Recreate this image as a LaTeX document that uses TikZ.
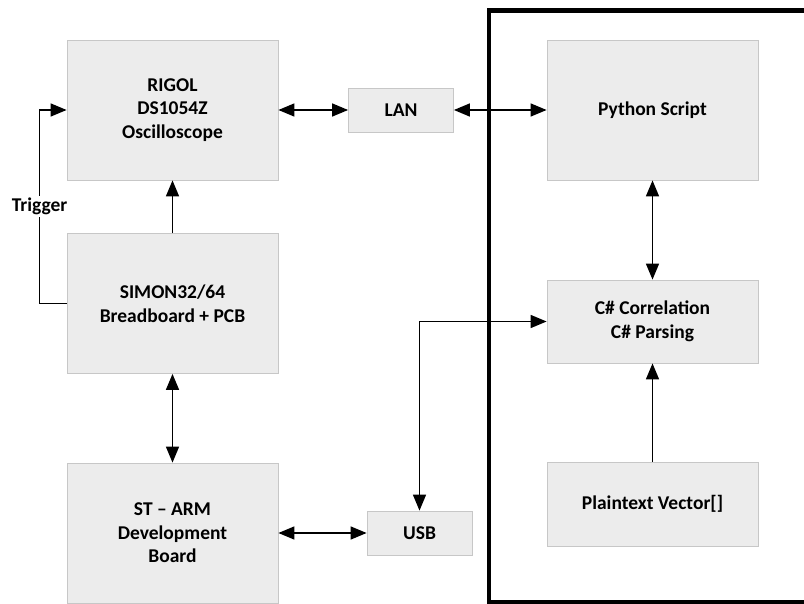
\documentclass[tikz,border=0pt]{standalone}
\usepackage{fontspec}
\setmainfont{Carlito}
\usepackage{tikz}
\usetikzlibrary{arrows.meta,positioning}

\begin{document}
\begin{tikzpicture}[
x=1pt,y=-1pt,
every node/.style={font=\fontsize{19.5}{23.5}\selectfont\bfseries, align=center, inner sep=0pt},
block/.style={draw=black!22, fill=black!7.5, line width=0.8pt, minimum width=211pt},
bigblock/.style={block, minimum height=140pt},
smallblock/.style={block, minimum width=105pt, minimum height=44pt},
midblock/.style={block, minimum height=83pt},
link/.style={line width=1.5pt, -{Triangle[length=16pt,width=13pt]}},
dlink/.style={line width=1.5pt, {Triangle[length=16pt,width=13pt]}-{Triangle[length=16pt,width=13pt]}},
lbl/.style={fill=white, inner sep=2pt}
]
\useasboundingbox (0,0) rectangle (804,604);

\node[bigblock] (rigol) at (172.5,110) {RIGOL\\DS1054Z\\Oscilloscope};
\node[bigblock] (simon) at (172.5,303.5) {SIMON32/64\\Breadboard + PCB};
\node[bigblock] (starm) at (172.5,533) {ST -- ARM\\Development\\Board};
\node[smallblock] (lan) at (401,110) {LAN};
\node[smallblock] (usb) at (419.5,533) {USB};
\node[bigblock] (py) at (652.5,110) {Python Script};
\node[midblock] (cs) at (652.5,321.5) {C\# Correlation\\C\# Parsing};
\node[midblock, minimum height=84pt] (plain) at (652.5,504) {Plaintext Vector[]};

\draw[line width=4.5pt] (806,10.5) -- (489,10.5) -- (489,602) -- (806,602);

\draw[link] (simon.west) -- ++(-27,0) |- node[lbl, pos=0.25] {Trigger} (rigol.west);
\draw[link] (simon.north) -- (rigol.south);
\draw[dlink] (simon.south) -- (starm.north);
\draw[dlink] (rigol.east) -- (lan.west);
\draw[dlink] (lan.east) -- (py.west);
\draw[dlink] (py.south) -- (cs.north);
\draw[link] (plain.north) -- (cs.south);
\draw[dlink] (starm.east) -- (usb.west);
\draw[dlink] (usb.north) |- (cs.west);
\end{tikzpicture}
\end{document}
